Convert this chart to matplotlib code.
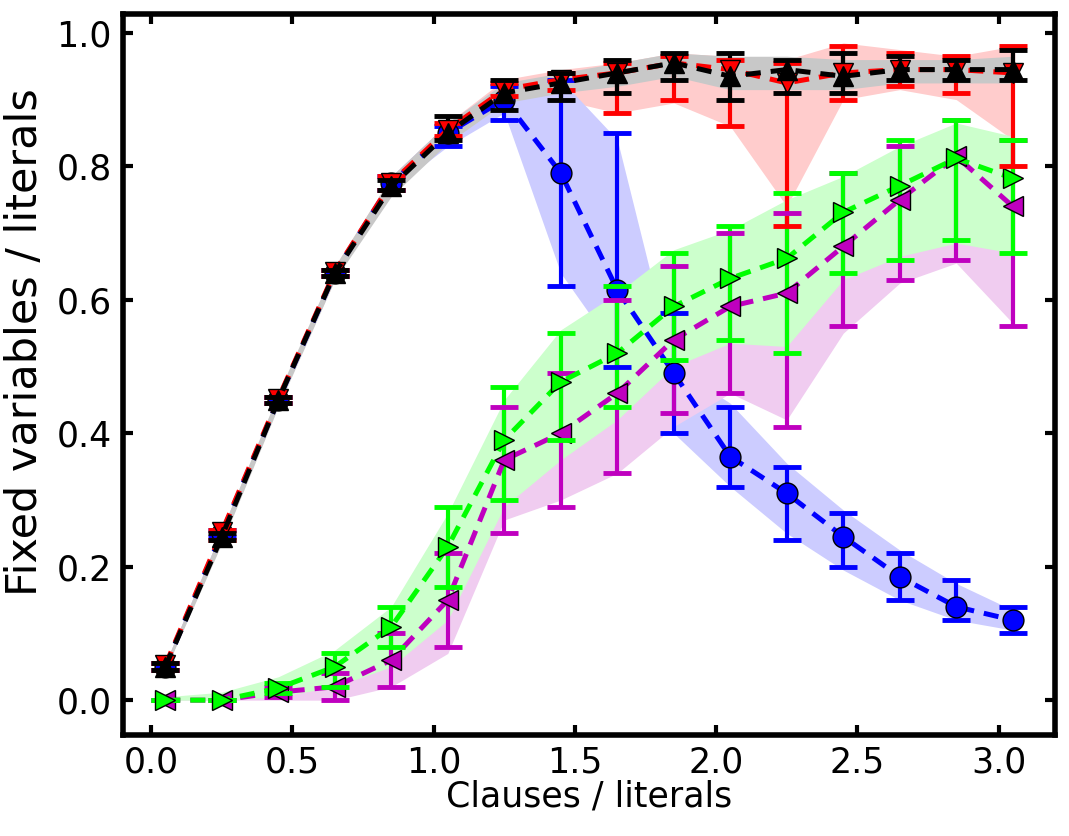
import matplotlib
matplotlib.use("Agg")
import matplotlib.pyplot as plt
from matplotlib import font_manager
import numpy as np

x = [0.05, 0.25, 0.45, 0.65, 0.85, 1.05, 1.25, 1.45, 1.65, 1.85, 2.05, 2.25, 2.45, 2.65, 2.85, 3.05]

# blue circles
blue_mean = [0.05, 0.25, 0.45, 0.64, 0.775, 0.85, 0.90, 0.79, 0.615, 0.49, 0.365, 0.31, 0.245, 0.185, 0.14, 0.12]
blue_lo = [0.045, 0.245, 0.445, 0.635, 0.765, 0.83, 0.87, 0.62, 0.50, 0.40, 0.32, 0.24, 0.20, 0.15, 0.12, 0.10]
blue_hi = [0.055, 0.255, 0.455, 0.645, 0.785, 0.86, 0.92, 0.93, 0.85, 0.58, 0.44, 0.35, 0.28, 0.22, 0.18, 0.14]
blue_band_lo = [0.045, 0.245, 0.445, 0.635, 0.765, 0.83, 0.88, 0.64, 0.52, 0.40, 0.32, 0.25, 0.195, 0.15, 0.12, 0.105]
blue_band_hi = [0.055, 0.255, 0.455, 0.645, 0.785, 0.865, 0.925, 0.93, 0.84, 0.50, 0.445, 0.355, 0.285, 0.225, 0.175, 0.135]

# red down triangles
red_mean = [0.052, 0.252, 0.452, 0.642, 0.775, 0.855, 0.915, 0.93, 0.94, 0.955, 0.945, 0.925, 0.94, 0.945, 0.945, 0.94]
red_lo = [0.045, 0.24, 0.445, 0.635, 0.765, 0.845, 0.905, 0.915, 0.88, 0.90, 0.86, 0.71, 0.90, 0.92, 0.91, 0.80]
red_hi = [0.055, 0.255, 0.455, 0.645, 0.785, 0.865, 0.925, 0.94, 0.955, 0.965, 0.96, 0.955, 0.98, 0.97, 0.965, 0.98]
red_band_lo = [0.045, 0.245, 0.445, 0.63, 0.765, 0.845, 0.90, 0.90, 0.88, 0.895, 0.86, 0.74, 0.90, 0.915, 0.90, 0.84]
red_band_hi = [0.055, 0.255, 0.455, 0.65, 0.785, 0.865, 0.93, 0.945, 0.955, 0.97, 0.965, 0.96, 0.985, 0.975, 0.965, 0.98]

# black up triangles
black_mean = [0.05, 0.245, 0.45, 0.64, 0.77, 0.85, 0.91, 0.925, 0.94, 0.955, 0.935, 0.945, 0.935, 0.945, 0.945, 0.945]
black_lo = [0.045, 0.24, 0.445, 0.635, 0.765, 0.84, 0.885, 0.90, 0.91, 0.93, 0.90, 0.91, 0.91, 0.93, 0.93, 0.93]
black_hi = [0.055, 0.25, 0.455, 0.645, 0.78, 0.875, 0.93, 0.94, 0.96, 0.97, 0.97, 0.96, 0.97, 0.965, 0.96, 0.975]
grey_band_lo = [0.045, 0.235, 0.44, 0.63, 0.755, 0.835, 0.895, 0.91, 0.92, 0.935, 0.915, 0.915, 0.915, 0.925, 0.925, 0.925]
grey_band_hi = [0.055, 0.255, 0.46, 0.65, 0.785, 0.865, 0.925, 0.94, 0.955, 0.97, 0.965, 0.965, 0.96, 0.96, 0.96, 0.965]

# green right triangles
green_mean = [0.0, 0.0, 0.018, 0.05, 0.11, 0.23, 0.39, 0.477, 0.52, 0.59, 0.632, 0.662, 0.731, 0.771, 0.812, 0.782]
green_lo = [0.0, 0.0, 0.01, 0.02, 0.08, 0.17, 0.30, 0.39, 0.44, 0.51, 0.54, 0.52, 0.64, 0.66, 0.69, 0.67]
green_hi = [0.0, 0.0, 0.025, 0.07, 0.14, 0.29, 0.47, 0.55, 0.62, 0.67, 0.71, 0.76, 0.79, 0.84, 0.87, 0.84]
green_band_lo = [0.0, 0.0, 0.005, 0.02, 0.05, 0.12, 0.29, 0.36, 0.42, 0.50, 0.535, 0.53, 0.63, 0.665, 0.685, 0.67]
green_band_hi = [0.005, 0.012, 0.035, 0.075, 0.14, 0.28, 0.45, 0.555, 0.61, 0.675, 0.705, 0.75, 0.785, 0.83, 0.865, 0.845]

# magenta left triangles
mag_mean = [0.0, 0.0, 0.012, 0.02, 0.06, 0.15, 0.36, 0.40, 0.46, 0.54, 0.59, 0.61, 0.68, 0.75, 0.815, 0.74]
mag_lo = [0.0, 0.0, 0.005, 0.0, 0.02, 0.08, 0.25, 0.29, 0.34, 0.43, 0.46, 0.41, 0.56, 0.63, 0.66, 0.56]
mag_hi = [0.0, 0.0, 0.02, 0.04, 0.10, 0.22, 0.44, 0.49, 0.60, 0.65, 0.70, 0.73, 0.79, 0.83, 0.87, 0.84]
mag_band_lo = [0.0, 0.0, 0.0, 0.0, 0.02, 0.07, 0.27, 0.30, 0.34, 0.41, 0.46, 0.42, 0.55, 0.625, 0.655, 0.565]
mag_band_hi = [0.005, 0.005, 0.025, 0.04, 0.09, 0.20, 0.42, 0.48, 0.56, 0.62, 0.66, 0.70, 0.76, 0.81, 0.85, 0.82]

xticks = [0.0, 0.5, 1.0, 1.5, 2.0, 2.5, 3.0]
yticks = [0.0, 0.2, 0.4, 0.6, 0.8, 1.0]

# the reference text looks tall and narrow, a condensed face gets close
names = {f.name for f in font_manager.fontManager.ttflist}
if 'DejaVu Sans Condensed' in names:
    plt.rcParams['font.family'] = ['DejaVu Sans Condensed', 'DejaVu Sans']
    fs = 29
else:
    plt.rcParams['font.family'] = ['DejaVu Sans']
    fs = 25

fig = plt.figure(figsize=(10.69, 8.36), dpi=100)
ax = fig.add_axes([0.115, 0.121, 0.872, 0.862])

# shaded bands, solid light colours so they cover each other
ax.fill_between(x, red_band_lo, red_band_hi, color='#ffcccc', lw=0, zorder=1.0)
ax.fill_between(x, blue_band_lo, blue_band_hi, color='#ccccff', lw=0, zorder=1.1)
ax.fill_between(x, mag_band_lo, mag_band_hi, color='#f0ccf0', lw=0, zorder=1.2)
ax.fill_between(x, green_band_lo, green_band_hi, color='#ccffcc', lw=0, zorder=1.3)
ax.fill_between(x, grey_band_lo, grey_band_hi, color='#c8c8c8', lw=0, zorder=1.4)

series = [
    (blue_mean, blue_lo, blue_hi, 'b', 'o', 15),
    (mag_mean, mag_lo, mag_hi, 'm', '<', 14),
    (green_mean, green_lo, green_hi, '#00ff00', '>', 14),
    (red_mean, red_lo, red_hi, 'r', 'v', 14),
    (black_mean, black_lo, black_hi, 'k', '^', 14),
]

for i, (m, lo, hi, c, mk, ms) in enumerate(series):
    m = np.array(m)
    yerr = [m - np.array(lo), np.array(hi) - m]
    cont = ax.errorbar(x, m, yerr=yerr, color=c, ecolor=c, marker=mk, ms=ms,
                       mec='k', mew=1, ls='--', lw=3.6, dashes=(3, 2),
                       elinewidth=3, capsize=10)
    line, caps, bars = cont.lines
    for b in bars:
        b.set_zorder(2 + i * 0.1)
    for cp in caps:
        cp.set_markeredgewidth(3.5)
        cp.set_zorder(3 + i * 0.1)
    line.set_zorder(3.05 + i * 0.1)

ax.set_xlim(-0.1, 3.2)
ax.set_ylim(-0.052, 1.028)
ax.set_xticks(xticks)
ax.set_yticks(yticks)
ax.set_xticklabels([f"{t:.1f}" for t in xticks])
ax.set_yticklabels([f"{t:.1f}" for t in yticks])
ax.tick_params(direction='in', length=7, width=3, top=True, right=True,
               labelsize=fs, pad=8)
for s in ax.spines.values():
    s.set_linewidth(4)

ax.set_xlabel("Clauses / literals", fontsize=fs, labelpad=0)
# rotated label is stretched along its length in the reference
ax.set_ylabel("Fixed variables / literals", fontsize=31,
              family=['DejaVu Sans'])
ax.yaxis.set_label_coords(-0.083, 0.545)

fig.savefig("out.png", dpi=100)
